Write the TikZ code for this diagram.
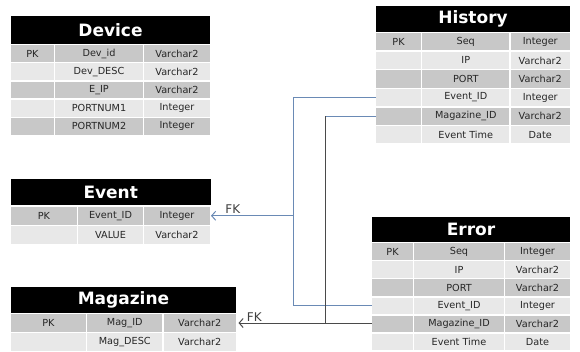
\documentclass[tikz,border=0pt]{standalone}
\usepackage{fontspec}
\setmainfont{DejaVu Sans}
\usepackage{xcolor}
\usetikzlibrary{arrows.meta}
\definecolor{row1}{HTML}{C8C8C8}
\definecolor{row0}{HTML}{E8E8E8}
\definecolor{fkblue}{HTML}{6A8AB5}
\definecolor{fkgray}{HTML}{4A4A4A}
\tikzset{
    tabletitle/.style={rectangle, fill=black, text=white, inner sep=0pt, outer sep=0pt, anchor=north west, font=\fontsize{17}{17}\selectfont\bfseries},
    cell/.style={rectangle, draw=white, line width=1.5pt, inner sep=0pt, outer sep=0pt, anchor=north west, text=black!85, font=\fontsize{9.7}{10}\selectfont},
    fkline/.style={draw, line width=1pt},
    fkarrow/.style={fkline, -{Straight Barb[length=4pt, width=9pt]}},
    fklabel/.style={above, inner sep=1.5pt, text=black!75, font=\fontsize{12}{12}\selectfont}
}

\begin{document}
\begin{tikzpicture}[x=1pt, y=-1pt]
    \useasboundingbox (0,0) rectangle (580,351);

    % Device
    \node[tabletitle, minimum width=199pt, minimum height=27.5pt] (dev) at (11,16) {Device};
    \foreach \pk/\fld/\typ [count=\r] in {PK/Dev\_id/Varchar2, /Dev\_DESC/Varchar2, /E\_IP/Varchar2, /PORTNUM1/Integer, /PORTNUM2/Integer}{
        \pgfmathtruncatemacro\shade{mod(\r,2)}
        \pgfmathsetmacro\rowy{44.5+18.2*(\r-1)}
        \node[cell, fill=row\shade, minimum width=44pt, minimum height=18.2pt] (dev-\r-1) at (10.5,\rowy) {\pk};
        \node[cell, fill=row\shade, minimum width=89pt, minimum height=18.2pt] (dev-\r-2) at (54.5,\rowy) {\fld};
        \node[cell, fill=row\shade, minimum width=67pt, minimum height=18.2pt] (dev-\r-3) at (143.5,\rowy) {\typ};
    }

    % History
    \node[tabletitle, minimum width=194pt, minimum height=25.5pt] (hist) at (376,6) {History};
    \foreach \pk/\fld/\typ [count=\r] in {PK/Seq/Integer, /IP/Varchar2, /PORT/Varchar2, /Event\_ID/Integer, /Magazine\_ID/Varchar2, /Event Time/Date}{
        \pgfmathtruncatemacro\shade{mod(\r,2)}
        \pgfmathsetmacro\rowy{32.5+18.6*(\r-1)}
        \node[cell, fill=row\shade, minimum width=46pt, minimum height=18.6pt] (hist-\r-1) at (375.5,\rowy) {\pk};
        \node[cell, fill=row\shade, minimum width=88.5pt, minimum height=18.6pt] (hist-\r-2) at (421.5,\rowy) {\fld};
        \node[cell, fill=row\shade, minimum width=60.5pt, minimum height=18.6pt] (hist-\r-3) at (510,\rowy) {\typ};
    }

    % Event
    \node[tabletitle, minimum width=199.5pt, minimum height=26pt] (ev) at (11,179) {Event};
    \foreach \pk/\fld/\typ [count=\r] in {PK/Event\_ID/Integer, /VALUE/Varchar2}{
        \pgfmathtruncatemacro\shade{mod(\r,2)}
        \pgfmathsetmacro\rowy{206+19.5*(\r-1)}
        \node[cell, fill=row\shade, minimum width=67pt, minimum height=19.5pt] (ev-\r-1) at (10.5,\rowy) {\pk};
        \node[cell, fill=row\shade, minimum width=66pt, minimum height=19.5pt] (ev-\r-2) at (77.5,\rowy) {\fld};
        \node[cell, fill=row\shade, minimum width=67pt, minimum height=19.5pt] (ev-\r-3) at (143.5,\rowy) {\typ};
    }

    % Magazine
    \node[tabletitle, minimum width=225pt, minimum height=26pt] (mag) at (11,287) {Magazine};
    \foreach \pk/\fld/\typ [count=\r] in {PK/Mag\_ID/Varchar2, /Mag\_DESC/Varchar2}{
        \pgfmathtruncatemacro\shade{mod(\r,2)}
        \pgfmathsetmacro\rowy{313.5+19*(\r-1)}
        \node[cell, fill=row\shade, minimum width=76pt, minimum height=19pt] (mag-\r-1) at (10.5,\rowy) {\pk};
        \node[cell, fill=row\shade, minimum width=76.5pt, minimum height=19pt] (mag-\r-2) at (86.5,\rowy) {\fld};
        \node[cell, fill=row\shade, minimum width=73.5pt, minimum height=19pt] (mag-\r-3) at (163,\rowy) {\typ};
    }

    % Error
    \node[tabletitle, minimum width=198pt, minimum height=25.5pt] (err) at (372,216.5) {Error};
    \foreach \pk/\fld/\typ [count=\r] in {PK/Seq/Integer, /IP/Varchar2, /PORT/Varchar2, /Event\_ID/Integer, /Magazine\_ID/Varchar2, /Event Time/Date}{
        \pgfmathtruncatemacro\shade{mod(\r,2)}
        \pgfmathsetmacro\rowy{242.5+18.1*(\r-1)}
        \node[cell, fill=row\shade, minimum width=42pt, minimum height=18.1pt] (err-\r-1) at (371.5,\rowy) {\pk};
        \node[cell, fill=row\shade, minimum width=91pt, minimum height=18.1pt] (err-\r-2) at (413.5,\rowy) {\fld};
        \node[cell, fill=row\shade, minimum width=66pt, minimum height=18.1pt] (err-\r-3) at (504.5,\rowy) {\typ};
    }

    % foreign keys: Event_ID and Magazine_ID buses
    \coordinate (evtrunk) at (293.3,0);
    \coordinate (magtrunk) at (325.7,0);
    \coordinate (evbus) at (evtrunk |- ev-1-3.east);
    \coordinate (magbus) at (magtrunk |- mag-1-3.east);

    \draw[fkline, fkblue] (hist-4-1.west) -| (evbus) |- (err-4-1.west);
    \draw[fkarrow, fkblue, shorten >=0.5pt] (evbus) -- (ev-1-3.east) node[fklabel, pos=0.73] {FK};

    \draw[fkline, fkblue] (hist-5-1.west) -- (hist-5-1.west -| magbus);
    \draw[fkline, fkgray] (hist-5-1.west -| magbus) -- (magbus) |- (err-5-1.west);
    \draw[fkarrow, fkgray, shorten >=2pt] (magbus) -- (mag-1-3.east) node[fklabel, pos=0.8] {FK};
\end{tikzpicture}
\end{document}
